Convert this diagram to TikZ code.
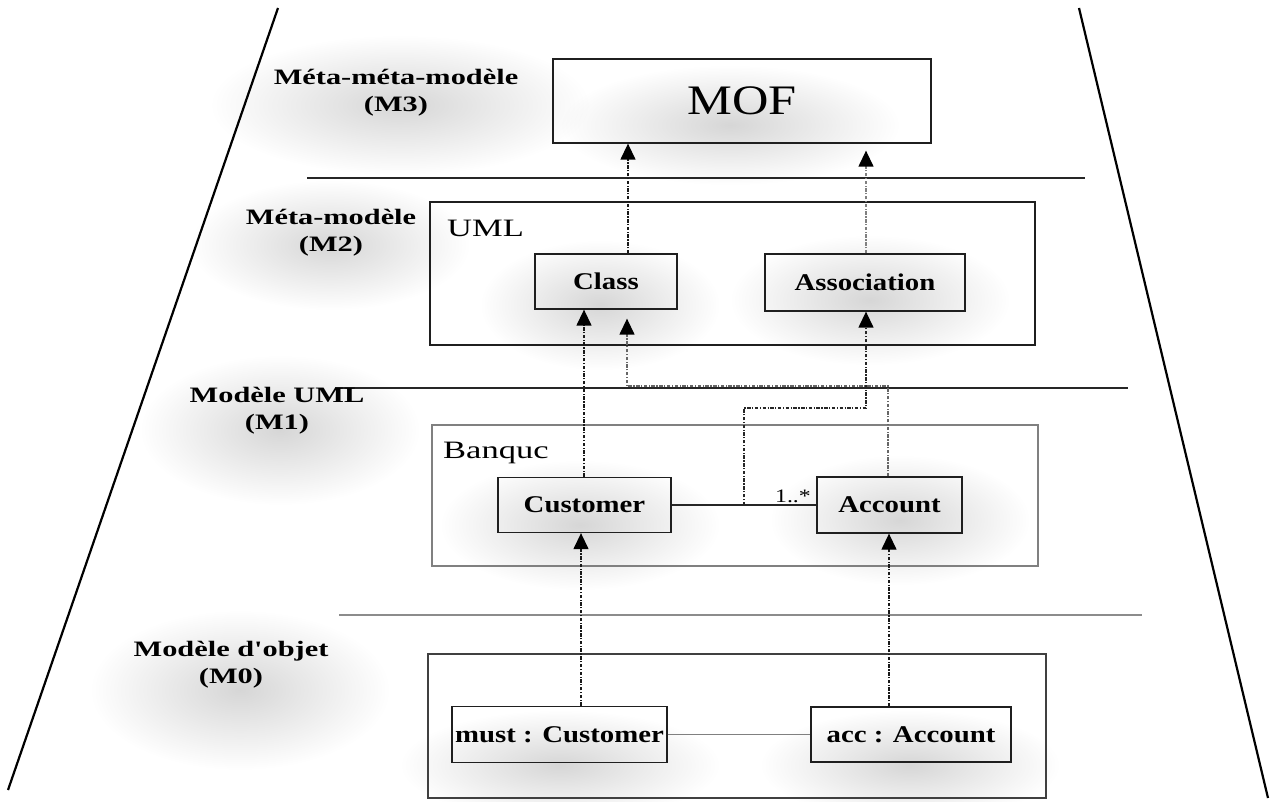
\documentclass[tikz,border=0pt]{standalone}
\usepackage{fontspec}
\usepackage{graphicx}
\setmainfont{Liberation Serif}[Ligatures=TeXOff]
\usetikzlibrary{arrows.meta,calc,fadings}
\tikzfading[name=glow, inner color=transparent!0, outer color=transparent!100]
\newcommand\hx[2]{\scalebox{#1}[1]{#2}}
\begin{document}
\begin{tikzpicture}[x=1pt,y=-1pt,
  box/.style={draw=black!88, line width=1.3pt, inner sep=0pt},
  lightbox/.style={draw=black!50, line width=1.2pt, inner sep=0pt},
  lvl/.style={font=\fontsize{22}{27}\selectfont\bfseries, align=center, inner sep=0pt},
  cls/.style={font=\fontsize{24}{28}\selectfont\bfseries},
  pkg/.style={font=\fontsize{25}{29}\selectfont, inner sep=0pt},
  dep/.style={line width=1.3pt, dash pattern=on 3.5pt off 1.5pt on 1.2pt off 1.5pt,
    -{Triangle[length=16pt,width=15pt,color=black]}},
  frame/.style={line width=2.2pt, black},
  sep/.style={line width=1.3pt, black!85},
  haze/.style={black, opacity=0.16, path fading=glow}]
\useasboundingbox (0,0) rectangle (1283,802);

% soft background haze
\fill[haze] (400,105) ellipse (190 and 70);
\fill[haze] (330,245) ellipse (140 and 65);
\fill[haze] (280,430) ellipse (140 and 75);
\fill[haze] (240,690) ellipse (150 and 80);
\fill[haze] (730,125) ellipse (170 and 60);
\fill[haze] (600,305) ellipse (120 and 65);
\fill[haze] (870,300) ellipse (140 and 65);
\fill[haze] (580,525) ellipse (140 and 65);
\fill[haze] (900,520) ellipse (130 and 65);
\fill[haze] (560,765) ellipse (160 and 55);
\fill[haze] (910,765) ellipse (150 and 55);

% pyramid frame
\draw[frame] (278,8) -- (8,790);
\draw[frame] (1079,8) -- (1268,798);

% level separators
\draw[sep] (307,178) -- (1085,178);
\draw[sep] (335,388) -- (1128,388);
\draw[sep, black!45] (339,615) -- (1142,615);

% level labels
\node[lvl] (l3) at (396,93) {\hx{1.38}{Méta-méta-modèle}\\\hx{1.38}{(M3)}};
\node[lvl] (l2) at (331,233) {\hx{1.38}{Méta-modèle}\\\hx{1.38}{(M2)}};
\node[lvl] (l1) at (277,411) {\hx{1.38}{Modèle UML}\\\hx{1.38}{(M1)}};
\node[lvl] (l0) at (231,665) {\hx{1.38}{Modèle d'objet}\\\hx{1.38}{(M0)}};

% M3
\node[box, minimum width=378pt, minimum height=84pt,
  font=\fontsize{42}{46}\selectfont] (mof) at (742,101) {\hx{1.2}{MOF}};

% M2
\node[box, minimum width=605pt, minimum height=143pt] (uml) at (732.5,273.5) {};
\node[pkg, anchor=base west] (umllbl) at (447,237) {\hx{1.38}{UML}};
\node[box, cls, minimum width=142pt, minimum height=55pt] (class) at (606,281.5) {\hx{1.2}{Class}};
\node[box, cls, minimum width=200pt, minimum height=57pt] (assoc) at (865,282.5) {\hx{1.2}{Association}};

% M1
\node[lightbox, minimum width=606pt, minimum height=141pt] (banque) at (735,495.5) {};
\node[pkg, anchor=base west] (banquelbl) at (443,458) {\hx{1.38}{Banquc}};
\node[box, cls, minimum width=173pt, minimum height=55pt] (cust) at (584.5,505) {\hx{1.2}{Customer}};
\node[box, cls, minimum width=145pt, minimum height=56pt] (acct) at (889.5,505) {\hx{1.2}{Account}};

% M0
\node[box, draw=black!75, minimum width=618pt, minimum height=144pt] (m0) at (737,726) {};
\node[box, cls, minimum width=215pt, minimum height=56pt] (must) at (559.5,734.5) {\hx{1.2}{must : Customer}};
\node[box, cls, minimum width=200pt, minimum height=55pt] (acc) at (911,734.5) {\hx{1.2}{acc : Account}};

% association links
\draw[line width=1.3pt, black!85] (cust.east) -- (acct.west);
\node[font=\fontsize{19}{21}\selectfont, anchor=base east, inner sep=0pt] (mult) at (811,502) {\hx{1.25}{1..*}};
\draw[line width=1.1pt, black!50] (must.east) -- (acc.west);

% instance-of connectors
\coordinate (x628) at (628,0);
\coordinate (x866) at (866,0);
\coordinate (x584) at (584,0);
\coordinate (x581) at (581,0);
\coordinate (x889) at (889,0);
\coordinate (k1) at (888,386);
\coordinate (k2) at (627,386);
\coordinate (j2) at (866,408);
\coordinate (mid) at ($(cust.east)!0.5!(acct.west)$);

\draw[dep, black!90] (class.north -| x628) -- (mof.south -| x628);
\draw[dep, black!50, shorten >=7pt] (assoc.north -| x866) -- (mof.south -| x866);
\draw[dep, black!90] (cust.north -| x584) -- (class.south -| x584);
\draw[dep, black!60, shorten >=9pt] (acct.north -| k1) -- (k1) -- (k2) -- (class.south -| k2);
\draw[dep, black!85] (mid) |- (j2) -- (assoc.south -| j2);
\draw[dep, black!90] (must.north -| x581) -- (cust.south -| x581);
\draw[dep, black!90] (acc.north -| x889) -- (acct.south -| x889);
\end{tikzpicture}
\end{document}
